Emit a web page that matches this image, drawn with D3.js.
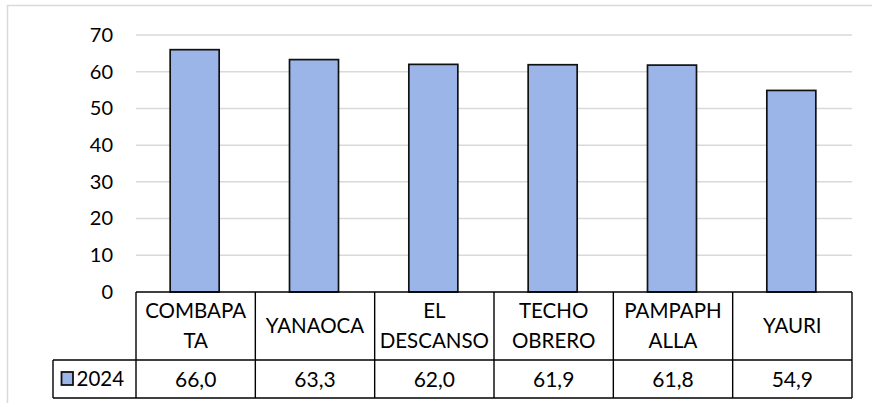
<!DOCTYPE html>
<html>
<head>
<meta charset="utf-8">
<script src="https://cdn.jsdelivr.net/npm/d3@7"></script>
<style>
  html, body { margin: 0; padding: 0; background: #fff; }
  svg { display: block; }
  text { font-family: Lato, "Noto Sans", sans-serif; fill: #000; }
</style>
</head>
<body>
<svg id="chart" width="872" height="407"></svg>
<script>
// Chart data
const categories = ["COMBAPATA", "YANAOCA", "EL DESCANSO", "TECHO OBRERO", "PAMPAPHALLA", "YAURI"];
const categoryLines = [["COMBAPA", "TA"], ["YANAOCA"], ["EL", "DESCANSO"], ["TECHO", "OBRERO"], ["PAMPAPH", "ALLA"], ["YAURI"]];
const seriesName = "2024";
const values2024 = [66.0, 63.3, 62.0, 61.9, 61.8, 54.9];
const yTicks = [0, 10, 20, 30, 40, 50, 60, 70];

const svg = d3.select("#chart");
const barFill = "#9BB5E9";
const gridColor = "#D9D9D9";

// Layout
const plotLeft = 136, plotRight = 852, plotTop = 35, zeroY = 292;
const rowY = 360, bottomY = 398, legendLeft = 53;

const fmt = d3.formatLocale({ decimal: ",", thousands: ".", grouping: [3], currency: ["", ""] }).format(".1f");

const x = d3.scaleBand().domain(categories).range([plotLeft, plotRight]).paddingInner(0).paddingOuter(0);
const y = d3.scaleLinear().domain([0, 70]).range([zeroY, plotTop]);

// Outer chart-area border
svg.append("path")
  .attr("d", `M7.5,403 V5.5 H872`)
  .attr("fill", "none").attr("stroke", gridColor).attr("stroke-width", 1.5);

// Gridlines
svg.append("g").selectAll("line").data(yTicks.filter(t => t > 0)).join("line")
  .attr("x1", plotLeft).attr("x2", plotRight)
  .attr("y1", d => y(d)).attr("y2", d => y(d))
  .attr("stroke", gridColor).attr("stroke-width", 1.5);

// Y axis labels
const yAxis = d3.axisLeft(y).tickValues(yTicks).tickSize(0).tickPadding(0).tickFormat(d3.format("d"));
const gy = svg.append("g").attr("transform", `translate(113,0)`).call(yAxis);
gy.select(".domain").remove();
gy.selectAll("text").attr("font-size", 20).attr("font-family", "Lato, sans-serif").attr("fill", "#000");

// Bars
const barW = 49;
svg.append("g").selectAll("rect").data(values2024).join("rect")
  .attr("x", (d, i) => x(categories[i]) + x.bandwidth() / 2 - barW / 2 - 1)
  .attr("width", barW)
  .attr("y", d => y(d))
  .attr("height", d => y(0) - y(d))
  .attr("fill", barFill)
  .attr("stroke", "#111").attr("stroke-width", 1.7);

// Data table
const tbl = svg.append("g").attr("stroke", "#000").attr("stroke-width", 1.4);
tbl.append("line").attr("x1", plotLeft).attr("x2", plotRight).attr("y1", zeroY).attr("y2", zeroY);
tbl.append("line").attr("x1", legendLeft).attr("x2", plotRight).attr("y1", rowY).attr("y2", rowY);
tbl.append("line").attr("x1", legendLeft).attr("x2", plotRight).attr("y1", bottomY).attr("y2", bottomY);
tbl.append("line").attr("x1", legendLeft).attr("x2", legendLeft).attr("y1", rowY).attr("y2", bottomY);
tbl.selectAll("line.col").data(categories.concat(["end"])).join("line").attr("class", "col")
  .attr("x1", (d, i) => i < categories.length ? x(d) : plotRight)
  .attr("x2", (d, i) => i < categories.length ? x(d) : plotRight)
  .attr("y1", zeroY).attr("y2", bottomY);

// Category labels
const lineH = 30;
const catG = svg.append("g");
categoryLines.forEach((lines, i) => {
  const cx = x(categories[i]) + x.bandwidth() / 2;
  const cy = (zeroY + rowY) / 2;
  lines.forEach((ln, j) => {
    catG.append("text")
      .attr("x", cx)
      .attr("y", cy + (j - (lines.length - 1) / 2) * lineH)
      .attr("dy", "0.36em")
      .attr("text-anchor", "middle")
      .attr("font-size", 20.5)
      .text(ln);
  });
});

// Value row
svg.append("g").selectAll("text").data(values2024).join("text")
  .attr("x", (d, i) => x(categories[i]) + x.bandwidth() / 2)
  .attr("y", (rowY + bottomY) / 2)
  .attr("dy", "0.36em")
  .attr("text-anchor", "middle")
  .attr("font-size", 21)
  .text(d => fmt(d));

// Legend key in the table
svg.append("rect").attr("x", 61.5).attr("y", 372).attr("width", 11.5).attr("height", 13)
  .attr("fill", barFill).attr("stroke", "#111").attr("stroke-width", 1.8);
svg.append("text").attr("x", 76.5).attr("y", (rowY + bottomY) / 2).attr("dy", "0.36em")
  .attr("font-size", 20.5).text(seriesName);
</script>
</body>
</html>
